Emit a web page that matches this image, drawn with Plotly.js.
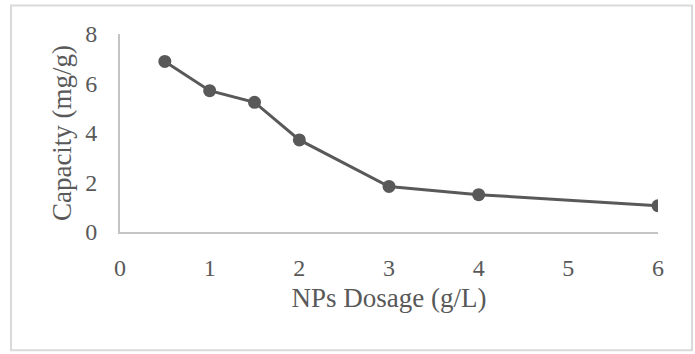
<!DOCTYPE html>
<html>
<head>
<meta charset="utf-8">
<script src="https://cdn.plot.ly/plotly-3.0.1.min.js"></script>
<style>
  html, body { margin: 0; padding: 0; background: #ffffff; }
  #chart { width: 695px; height: 354px; }
</style>
</head>
<body>
<div id="chart"></div>
<script>
// Data
const dosage = [0.5, 1, 1.5, 2, 3, 4, 6];          // NPs Dosage (g/L)
const capacity = [6.89, 5.71, 5.24, 3.72, 1.84, 1.51, 1.06]; // Capacity (mg/g)
const xTicks = [0, 1, 2, 3, 4, 5, 6];
const yTicks = [0, 2, 4, 6, 8];

const textColor = '#595959';
const fontFamily = '"Liberation Serif", "Times New Roman", serif';

const trace = {
  x: dosage,
  y: capacity,
  type: 'scatter',
  mode: 'lines+markers',
  line: { color: '#595959', width: 3 },
  marker: { color: '#595959', size: 13 },
  hoverinfo: 'x+y'
};

// plot area in pixels: x 120..658, y 33.5..232
const L = 120, R = 695 - 658, T = 33.5, B = 354 - 232;
const pw = 695 - L - R, ph = 354 - T - B;
function px2paperX(p) { return (p - L) / pw; }
function px2paperY(p) { return (354 - B - p) / ph; }

const layout = {
  width: 695,
  height: 354,
  margin: { l: L, r: R, t: T, b: B, pad: 0 },
  paper_bgcolor: '#ffffff',
  plot_bgcolor: '#ffffff',
  showlegend: false,
  font: { family: fontFamily, color: textColor, size: 24 },
  xaxis: {
    range: [0, 6],
    tickvals: xTicks,
    ticktext: xTicks.map(String),
    showgrid: false,
    zeroline: false,
    showline: true,
    linecolor: '#c4c4c4',
    linewidth: 2,
    ticks: '',
    ticklabelstandoff: 13,
    tickfont: { family: fontFamily, size: 24, color: textColor },
    title: { text: 'NPs Dosage (g/L)', font: { family: fontFamily, size: 27, color: textColor }, standoff: 8 },
    fixedrange: true
  },
  yaxis: {
    range: [0, 8],
    tickvals: yTicks,
    ticktext: yTicks.map(String),
    showgrid: false,
    zeroline: false,
    showline: true,
    linecolor: '#c4c4c4',
    linewidth: 2,
    ticks: '',
    ticklabelstandoff: 16,
    tickfont: { family: fontFamily, size: 24, color: textColor },
    title: { text: 'Capacity (mg/g)', font: { family: fontFamily, size: 27, color: textColor }, standoff: 6 },
    fixedrange: true
  },
  shapes: [{
    type: 'rect',
    xref: 'paper', yref: 'paper',
    x0: px2paperX(11), x1: px2paperX(692),
    y0: px2paperY(350.5), y1: px2paperY(5),
    line: { color: '#d9d9d9', width: 2 },
    fillcolor: 'rgba(0,0,0,0)',
    layer: 'below'
  }]
};

Plotly.newPlot('chart', [trace], layout, { displayModeBar: false, staticPlot: true });
</script>
</body>
</html>
